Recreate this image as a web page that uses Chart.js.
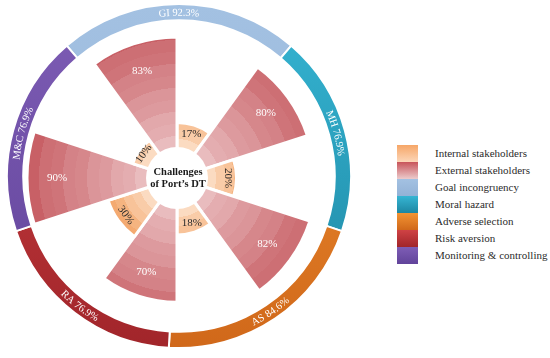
<!DOCTYPE html>
<html>
<head>
<meta charset="utf-8">
<script src="https://cdn.jsdelivr.net/npm/chart.js@4.4.0/dist/chart.umd.min.js"></script>
<style>
  html, body { margin: 0; padding: 0; background: #fff; }
  #wrap { position: relative; width: 550px; height: 358px; overflow: hidden; }
  #ringBox { position: absolute; left: 6px; top: 3px; width: 346px; height: 346px; }
  #polarBox { position: absolute; left: 5px; top: 6px; width: 344px; height: 344px; }
  #legend { position: absolute; left: 397px; top: 145px; font-family: "Liberation Serif", serif; font-size: 11px; color: #2b2b2b; }
  .row { position: relative; height: 17px; }
  .sw { position: absolute; left: 0; top: 0; width: 21px; height: 17px; }
  .lbl { position: absolute; left: 38px; top: 0; line-height: 17px; white-space: nowrap; }
</style>
</head>
<body>
<div id="wrap">
  <div id="ringBox"><canvas id="ring" width="346" height="346"></canvas></div>
  <div id="polarBox"><canvas id="polar" width="344" height="344"></canvas></div>
  <div id="legend"></div>
</div>
<script>
// Challenge groups on the outer ring and their shares
const sectors = ['GI', 'MH', 'AS', 'RA', 'M&C'];
const sectorShare = [92.3, 76.9, 84.6, 76.9, 76.9];

// Inner wedges per group (internal / external stakeholders)
const internalValues = [17, 20, 18, 30, 10];
const externalValues = [83, 80, 82, 70, 90];

const legendNames = ['Internal stakeholders', 'External stakeholders', 'Goal incongruency',
  'Moral hazard', 'Adverse selection', 'Risk aversion', 'Monitoring & controlling'];

// top / bottom shades
const ringColors = [
  ['#a3c1e2', '#93b2d6'],
  ['#36b5d3', '#1d86a2'],
  ['#f39433', '#d0681a'],
  ['#cf4244', '#a1252a'],
  ['#7e5db5', '#61439a']
];
const stakeColors = [['#f6a667', '#fcd6b8'], ['#c8545a', '#eccbcc']];

const FONT = '"Liberation Serif", serif';

// wedges go clockwise from 12 o'clock: internal of one group, then external of the next
const wedgeValues = [], wedgeKinds = [], wedgeNames = [];
sectors.forEach((s, i) => {
  const next = (i + 1) % sectors.length;
  wedgeValues.push(internalValues[i]); wedgeKinds.push('int'); wedgeNames.push(s + ' internal');
  wedgeValues.push(externalValues[next]); wedgeKinds.push('ext'); wedgeNames.push(sectors[next] + ' external');
});

function mix(a, b, t) {
  const c = a.map((v, k) => Math.round(v + (b[k] - v) * t));
  return 'rgb(' + c.join(',') + ')';
}

const redBand = { light: [234, 190, 192], dark: [199, 94, 100], reach: 150 };
const orangeBand = { light: [252, 224, 201], dark: [243, 164, 103], reach: 74 };

function bandFill(c) {
  const kind = wedgeKinds[c.dataIndex];
  const chart = c.chart, sc = chart.scales.r;
  if (!sc || !chart.chartArea) return kind === 'int' ? '#f7bf93' : '#d4858a';
  const outer = sc.getDistanceFromCenterForValue(c.raw);
  const pal = kind === 'int' ? orangeBand : redBand;
  const g = chart.ctx.createRadialGradient(sc.xCenter, sc.yCenter, 0, sc.xCenter, sc.yCenter, outer);
  const r0 = 30, step = kind === 'int' ? 9 : 12;
  g.addColorStop(0, mix(pal.light, pal.dark, 0));
  let k = 0;
  for (let r = r0; r < outer; r += step, k++) {
    let t = Math.min(1, (r + step / 2 - r0) / (pal.reach - r0));
    t = Math.max(0, Math.min(1, t + (k % 2 ? 0.025 : -0.025)));
    const col = mix(pal.light, pal.dark, t);
    g.addColorStop(r / outer, col);
    g.addColorStop(Math.min(1, (r + step) / outer), col);
  }
  return g;
}

function ringFill(c) {
  const chart = c.chart, area = chart.chartArea;
  const pair = ringColors[c.dataIndex];
  if (!area) return pair[0];
  const g = chart.ctx.createLinearGradient(0, area.top, 0, area.bottom);
  g.addColorStop(0, pair[0]);
  g.addColorStop(1, pair[1]);
  return g;
}

// labels inside the wedges
const wedgeLabels = {
  id: 'wedgeLabels',
  afterDraw(chart) {
    const ctx = chart.ctx;
    chart.getDatasetMeta(0).data.forEach((arc, i) => {
      const p = arc.getProps(['x', 'y', 'startAngle', 'endAngle', 'outerRadius'], true);
      const mid = (p.startAngle + p.endAngle) / 2;
      const isInt = wedgeKinds[i] === 'int';
      const rr = isInt ? Math.max(p.outerRadius - 9, 41) : p.outerRadius * 0.8;
      ctx.save();
      ctx.translate(p.x + rr * Math.cos(mid), p.y + rr * Math.sin(mid));
      if (isInt) {
        let rot = mid + Math.PI / 2;
        rot = Math.atan2(Math.sin(rot), Math.cos(rot));
        if (rot > Math.PI / 2 + 0.01) rot -= Math.PI;
        if (rot < -Math.PI / 2 + 0.01) rot += Math.PI;
        if (Math.abs(rot) < 0.4) rot = 0;
        ctx.rotate(rot);
      }
      ctx.font = '11px ' + FONT;
      ctx.fillStyle = isInt ? '#2a2a2a' : '#ffffff';
      ctx.textAlign = 'center';
      ctx.textBaseline = 'middle';
      ctx.fillText(wedgeValues[i] + '%', 0, 0);
      ctx.restore();
    });
  }
};

// white hole in the middle with the title
const centerHole = {
  id: 'centerHole',
  afterDraw(chart) {
    const sc = chart.scales.r, ctx = chart.ctx;
    ctx.save();
    ctx.beginPath();
    ctx.arc(sc.xCenter, sc.yCenter, 31, 0, Math.PI * 2);
    ctx.fillStyle = '#fff';
    ctx.fill();
    ctx.font = 'bold 10.5px ' + FONT;
    ctx.fillStyle = '#1a1a1a';
    ctx.textAlign = 'center';
    ctx.textBaseline = 'middle';
    ctx.fillText('Challenges', sc.xCenter + 1, sc.yCenter - 6);
    ctx.fillText('of Port\u2019s DT', sc.xCenter + 1, sc.yCenter + 6);
    ctx.restore();
  }
};

function arcText(ctx, text, cx, cy, r, mid, inward) {
  const cap = 7;
  const widths = [...text].map(ch => ctx.measureText(ch).width);
  const total = widths.reduce((a, b) => a + b, 0) / r;
  let acc = 0;
  [...text].forEach((ch, k) => {
    const w = widths[k];
    const off = (acc + w / 2) / r;
    const a = inward ? mid + total / 2 - off : mid - total / 2 + off;
    const rb = inward ? r + cap / 2 : r - cap / 2;
    ctx.save();
    ctx.translate(cx + rb * Math.cos(a), cy + rb * Math.sin(a));
    ctx.rotate(inward ? a - Math.PI / 2 : a + Math.PI / 2);
    ctx.fillText(ch, 0, 0);
    ctx.restore();
    acc += w;
  });
}

const ringLabels = {
  id: 'ringLabels',
  afterDatasetsDraw(chart) {
    const ctx = chart.ctx;
    ctx.save();
    ctx.font = '10.5px ' + FONT;
    ctx.fillStyle = '#fff';
    ctx.textAlign = 'center';
    ctx.textBaseline = 'alphabetic';
    chart.getDatasetMeta(0).data.forEach((arc, i) => {
      const p = arc.getProps(['x', 'y', 'startAngle', 'endAngle', 'innerRadius', 'outerRadius'], true);
      const mid = (p.startAngle + p.endAngle) / 2;
      const rMid = (p.innerRadius + p.outerRadius) / 2;
      const inward = Math.sin(mid) > 0.05;
      arcText(ctx, sectors[i] + ' ' + sectorShare[i] + '%', p.x, p.y, rMid, mid, inward);
    });
    ctx.restore();
  }
};

const shareTotal = sectorShare.reduce((a, b) => a + b, 0);

new Chart(document.getElementById('ring'), {
  type: 'doughnut',
  data: {
    labels: sectors,
    datasets: [{ data: sectorShare, backgroundColor: ringFill, borderColor: '#fff', borderWidth: 2 }]
  },
  options: {
    responsive: false,
    animation: false,
    cutout: '90.5%',
    rotation: -sectorShare[0] / shareTotal * 180,
    plugins: { legend: { display: false }, tooltip: { enabled: false } }
  },
  plugins: [ringLabels]
});

new Chart(document.getElementById('polar'), {
  type: 'polarArea',
  data: {
    labels: wedgeNames,
    datasets: [{ data: wedgeValues, backgroundColor: bandFill, borderColor: '#fff', borderWidth: 3 }]
  },
  options: {
    responsive: false,
    animation: false,
    plugins: { legend: { display: false }, tooltip: { enabled: false } },
    scales: {
      r: {
        min: -26,
        max: 107,
        startAngle: 0,
        ticks: { display: false, stepSize: 20, z: 1 },
        grid: {
          color: c => (c.tick && c.tick.value > 0 && c.tick.value < 100) ? 'rgba(255,255,255,0.4)' : 'rgba(0,0,0,0)',
          lineWidth: 1
        }
      }
    }
  },
  plugins: [wedgeLabels, centerHole]
});

// legend on the right
const legendSwatches = [stakeColors[0], stakeColors[1]].concat(ringColors);
const legendEl = document.getElementById('legend');
legendNames.forEach((name, i) => {
  const row = document.createElement('div');
  row.className = 'row';
  const sw = document.createElement('div');
  sw.className = 'sw';
  sw.style.background = 'linear-gradient(' + legendSwatches[i][0] + ',' + legendSwatches[i][1] + ')';
  const lbl = document.createElement('div');
  lbl.className = 'lbl';
  lbl.textContent = name;
  row.appendChild(sw);
  row.appendChild(lbl);
  legendEl.appendChild(row);
});
</script>
</body>
</html>
